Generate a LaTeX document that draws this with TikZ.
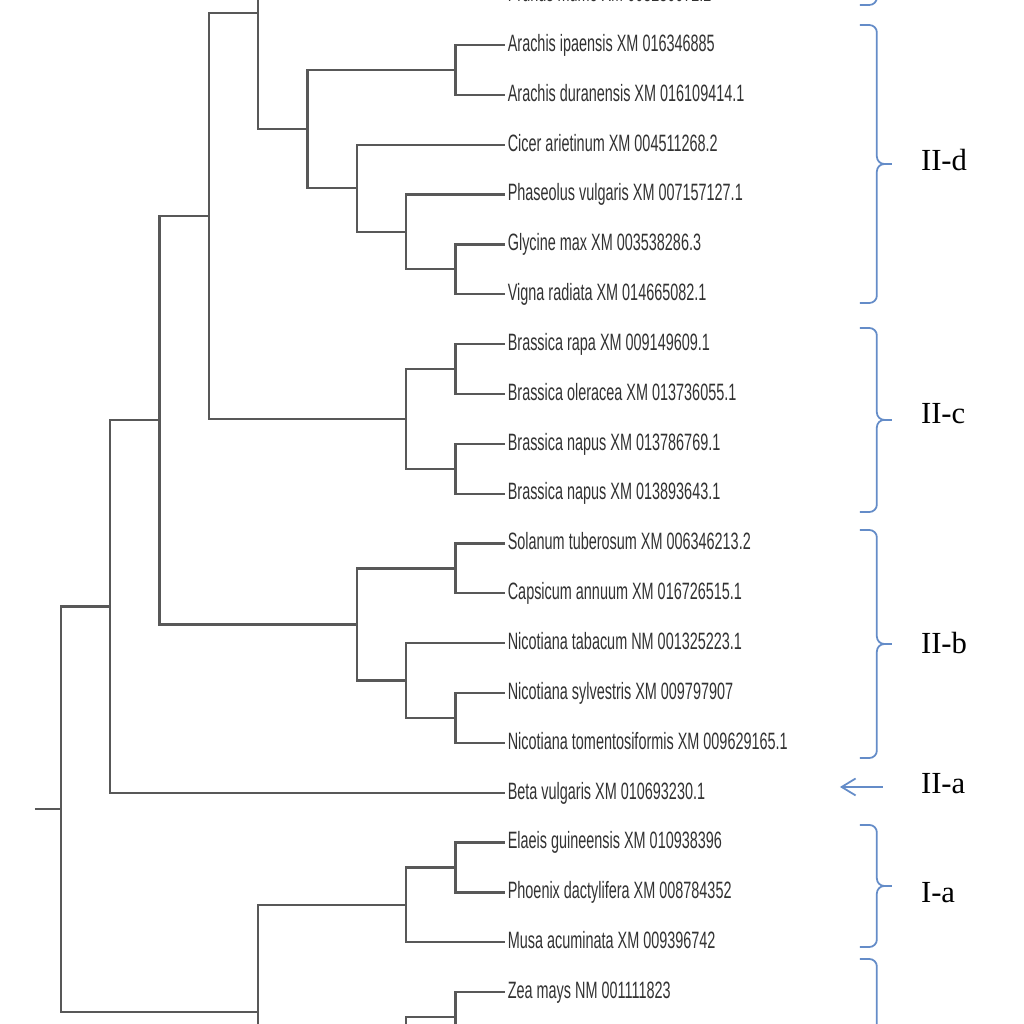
\documentclass[tikz,border=0pt]{standalone}
\usepackage{fontspec}
\usetikzlibrary{arrows.meta}
\newfontfamily\leaffont[FakeStretch=0.61]{Liberation Sans}
\newfontfamily\cladefont{Liberation Serif}
\definecolor{treegray}{RGB}{88,88,88}
\definecolor{leafgray}{RGB}{50,50,50}
\definecolor{braceblue}{RGB}{100,140,200}
\tikzset{
  leaf/.style={anchor=west, inner sep=0.05cm, text height=0.72em, text depth=0pt, text=leafgray, font=\leaffont\fontsize{13.5}{16}\selectfont},
  branch/.style={draw=treegray, line width=1.3pt},
  clade/.style={anchor=west, inner sep=0pt, text height=0.66em, text depth=0pt, font=\cladefont\fontsize{17.5}{20}\selectfont},
  bracket/.style={draw=braceblue, line width=1pt, rounded corners=0.15cm},
  pointer/.style={draw=braceblue, line width=1pt, -{Straight Barb[length=0.28cm, width=0.34cm]}}
}
\begin{document}
\begin{tikzpicture}
\useasboundingbox (0,0.903) rectangle (20.542,-19.639);
\fill[white] (0,0.903) rectangle (20.542,-19.639);
\clip (0,0.903) rectangle (20.542,-19.639);

\node[leaf] (pm) at (10.13,1) {Prunus mume XM 008230072.2};
\node[leaf] (ai) at (10.13,0) {Arachis ipaensis XM 016346885};
\node[leaf] (ad) at (10.13,-1) {Arachis duranensis XM 016109414.1};
\node[leaf] (ca) at (10.13,-2) {Cicer arietinum XM 004511268.2};
\node[leaf] (pv) at (10.13,-3) {Phaseolus vulgaris XM 007157127.1};
\node[leaf] (gm) at (10.13,-4) {Glycine max XM 003538286.3};
\node[leaf] (vr) at (10.13,-5) {Vigna radiata XM 014665082.1};
\node[leaf] (br) at (10.13,-6) {Brassica rapa XM 009149609.1};
\node[leaf] (bo) at (10.13,-7) {Brassica oleracea XM 013736055.1};
\node[leaf] (bn1) at (10.13,-8) {Brassica napus XM 013786769.1};
\node[leaf] (bn2) at (10.13,-9) {Brassica napus XM 013893643.1};
\node[leaf] (st) at (10.13,-10) {Solanum tuberosum XM 006346213.2};
\node[leaf] (cp) at (10.13,-11) {Capsicum annuum XM 016726515.1};
\node[leaf] (nt) at (10.13,-12) {Nicotiana tabacum NM 001325223.1};
\node[leaf] (ns) at (10.13,-13) {Nicotiana sylvestris XM 009797907};
\node[leaf] (nto) at (10.13,-14) {Nicotiana tomentosiformis XM 009629165.1};
\node[leaf] (bv) at (10.13,-15) {Beta vulgaris XM 010693230.1};
\node[leaf] (eg) at (10.13,-16) {Elaeis guineensis XM 010938396};
\node[leaf] (pd) at (10.13,-17) {Phoenix dactylifera XM 008784352};
\node[leaf] (ma) at (10.13,-18) {Musa acuminata XM 009396742};
\node[leaf] (zm) at (10.13,-19) {Zea mays NM 001111823};
\coordinate (zx) at (10.13,-20);

\coordinate (a1) at (9.14,-0.5);
\coordinate (d1) at (9.14,-4.5);
\coordinate (d2) at (8.15,-3.75);
\coordinate (d3) at (7.16,-2.875);
\coordinate (d4) at (6.17,-1.6875);
\coordinate (pr) at (6.17,2.97);
\coordinate (t5) at (5.18,0.64);
\coordinate (b1) at (9.14,-6.5);
\coordinate (b2) at (9.14,-8.5);
\coordinate (bra) at (8.15,-7.5);
\coordinate (t6) at (4.19,-3.43);
\coordinate (s1) at (9.14,-10.5);
\coordinate (n1) at (9.14,-13.5);
\coordinate (n2) at (8.15,-12.75);
\coordinate (sol) at (7.16,-11.625);
\coordinate (t7) at (3.20,-7.5275);
\coordinate (t8) at (2.21,-11.264);
\coordinate (m1) at (9.14,-16.5);
\coordinate (m2) at (8.15,-17.25);
\coordinate (mlow) at (6.17,-21.55);
\coordinate (m5) at (5.18,-19.40);
\coordinate (z1) at (9.14,-19.5);
\coordinate (z2) at (8.15,-20.5);
\coordinate (r9) at (1.22,-15.33);
\coordinate (root) at (0.70,-15.33);

\draw[branch] (a1) |- (ai);
\draw[branch] (a1) |- (ad);
\draw[branch] (d1) |- (gm);
\draw[branch] (d1) |- (vr);
\draw[branch] (d2) |- (pv);
\draw[branch] (d2) |- (d1);
\draw[branch] (d3) |- (ca);
\draw[branch] (d3) |- (d2);
\draw[branch] (d4) |- (a1);
\draw[branch] (d4) |- (d3);
\draw[branch] (pr) |- (pm);
\draw[branch] (t5) |- (pr);
\draw[branch] (t5) |- (d4);
\draw[branch] (b1) |- (br);
\draw[branch] (b1) |- (bo);
\draw[branch] (b2) |- (bn1);
\draw[branch] (b2) |- (bn2);
\draw[branch] (bra) |- (b1);
\draw[branch] (bra) |- (b2);
\draw[branch] (t6) |- (t5);
\draw[branch] (t6) |- (bra);
\draw[branch] (s1) |- (st);
\draw[branch] (s1) |- (cp);
\draw[branch] (n1) |- (ns);
\draw[branch] (n1) |- (nto);
\draw[branch] (n2) |- (nt);
\draw[branch] (n2) |- (n1);
\draw[branch] (sol) |- (s1);
\draw[branch] (sol) |- (n2);
\draw[branch] (t7) |- (t6);
\draw[branch] (t7) |- (sol);
\draw[branch] (t8) |- (t7);
\draw[branch] (t8) |- (bv);
\draw[branch] (m1) |- (eg);
\draw[branch] (m1) |- (pd);
\draw[branch] (m2) |- (m1);
\draw[branch] (m2) |- (ma);
\draw[branch] (m5) |- (m2);
\draw[branch] (m5) |- (mlow);
\draw[branch] (z1) |- (zm);
\draw[branch] (z1) |- (zx);
\draw[branch] (z2) |- (z1);
\draw[branch] (r9) |- (t8);
\draw[branch] (r9) |- (m5);
\draw[branch] (root) -- (r9);

\coordinate (kt0) at (17.59,4);
\coordinate (km0) at (17.89,2.4);
\coordinate (kb0) at (17.59,0.803);
\coordinate (kt1) at (17.59,0.401);
\coordinate (km1) at (17.89,-2.387);
\coordinate (kb1) at (17.59,-5.175);
\coordinate (kt2) at (17.59,-5.677);
\coordinate (km2) at (17.89,-7.52);
\coordinate (kb2) at (17.59,-9.368);
\coordinate (kt3) at (17.59,-9.729);
\coordinate (km3) at (17.89,-12.016);
\coordinate (kb3) at (17.59,-14.303);
\coordinate (kt4) at (17.59,-15.646);
\coordinate (km4) at (17.89,-16.87);
\coordinate (kb4) at (17.59,-18.094);
\coordinate (kt5) at (17.59,-18.335);
\coordinate (km5) at (17.89,-20.8);
\coordinate (kb5) at (17.59,-23.2);
\draw[bracket] ([xshift=-0.34cm]kt0) -- (kt0) |- (km0) ([xshift=-0.34cm]kb0) -- (kb0) |- (km0);
\draw[bracket] ([xshift=-0.34cm]kt1) -- (kt1) |- (km1) ([xshift=-0.34cm]kb1) -- (kb1) |- (km1);
\draw[bracket] ([xshift=-0.34cm]kt2) -- (kt2) |- (km2) ([xshift=-0.34cm]kb2) -- (kb2) |- (km2);
\draw[bracket] ([xshift=-0.34cm]kt3) -- (kt3) |- (km3) ([xshift=-0.34cm]kb3) -- (kb3) |- (km3);
\draw[bracket] ([xshift=-0.34cm]kt4) -- (kt4) |- (km4) ([xshift=-0.34cm]kb4) -- (kb4) |- (km4);
\draw[bracket] ([xshift=-0.34cm]kt5) -- (kt5) |- (km5) ([xshift=-0.34cm]kb5) -- (kb5) |- (km5);

\node[clade] (IId) at (18.47,-2.41) {II-d};
\node[clade] (IIc) at (18.47,-7.48) {II-c};
\node[clade] (IIb) at (18.47,-12.10) {II-b};
\node[clade] (IIa) at (18.47,-14.89) {II-a};
\node[clade] (Ia) at (18.47,-17.09) {I-a};
\coordinate (atail) at (17.71,-14.884);
\coordinate (ahead) at (16.85,-14.884);
\draw[pointer] (atail) -- (ahead);
\end{tikzpicture}
\end{document}
